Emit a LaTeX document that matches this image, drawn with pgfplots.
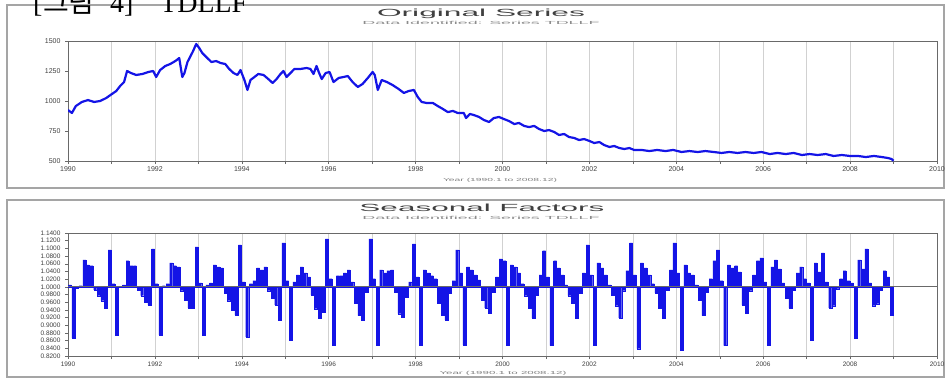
\documentclass[border=0pt]{standalone}
\usepackage{graphicx}
\usepackage{pgfplots}
\pgfplotsset{compat=1.18}
\usepackage{pgfplotstable}
\usepackage{fontspec}
\setmainfont{Liberation Sans}
\newfontfamily\serif{Liberation Serif}
\newfontfamily\kr{Noto Sans CJK KR}
\definecolor{pblue}{RGB}{20,20,230}
\definecolor{frame}{RGB}{105,105,105}
\definecolor{panel}{RGB}{165,165,165}

% seasonal factors (deviation from 1), monthly Jan 1990 - Dec 2008
\pgfplotstableread[row sep=\\]{d\\
0.005\\ -0.133\\ -0.003\\ 0.003\\ 0.070\\ 0.057\\ 0.055\\ -0.008\\ -0.023\\ -0.036\\ -0.055\\ 0.096\\
0.008\\ -0.127\\ 0.000\\ 0.005\\ 0.068\\ 0.055\\ 0.055\\ -0.008\\ -0.023\\ -0.039\\ -0.047\\ 0.099\\
0.008\\ -0.125\\ 0.003\\ 0.008\\ 0.062\\ 0.055\\ 0.052\\ -0.010\\ -0.034\\ -0.055\\ -0.055\\ 0.104\\
0.010\\ -0.127\\ 0.005\\ 0.010\\ 0.057\\ 0.052\\ 0.049\\ -0.016\\ -0.036\\ -0.060\\ -0.073\\ 0.109\\
0.013\\ -0.130\\ 0.008\\ 0.016\\ 0.049\\ 0.044\\ 0.052\\ -0.010\\ -0.029\\ -0.047\\ -0.086\\ 0.114\\
0.016\\ -0.138\\ 0.013\\ 0.031\\ 0.052\\ 0.036\\ 0.026\\ -0.021\\ -0.057\\ -0.081\\ -0.065\\ 0.125\\
0.021\\ -0.151\\ 0.029\\ 0.029\\ 0.036\\ 0.044\\ 0.013\\ -0.042\\ -0.075\\ -0.086\\ -0.013\\ 0.125\\
0.021\\ -0.153\\ 0.044\\ 0.036\\ 0.042\\ 0.044\\ -0.013\\ -0.070\\ -0.078\\ -0.026\\ 0.013\\ 0.112\\
0.026\\ -0.153\\ 0.044\\ 0.036\\ 0.029\\ 0.021\\ -0.042\\ -0.075\\ -0.086\\ -0.016\\ 0.016\\ 0.096\\
0.036\\ -0.151\\ 0.052\\ 0.044\\ 0.031\\ 0.018\\ -0.034\\ -0.055\\ -0.068\\ -0.013\\ 0.026\\ 0.073\\
0.068\\ -0.151\\ 0.057\\ 0.052\\ 0.036\\ 0.008\\ -0.023\\ -0.055\\ -0.081\\ -0.021\\ 0.031\\ 0.094\\
0.026\\ -0.153\\ 0.068\\ 0.049\\ 0.031\\ 0.005\\ -0.023\\ -0.042\\ -0.081\\ -0.016\\ 0.036\\ 0.109\\
0.031\\ -0.153\\ 0.062\\ 0.049\\ 0.031\\ 0.005\\ -0.021\\ -0.049\\ -0.081\\ -0.010\\ 0.042\\ 0.114\\
0.031\\ -0.161\\ 0.062\\ 0.049\\ 0.031\\ 0.008\\ -0.016\\ -0.055\\ -0.081\\ -0.008\\ 0.044\\ 0.114\\
0.036\\ -0.164\\ 0.057\\ 0.036\\ 0.031\\ 0.005\\ -0.034\\ -0.075\\ -0.013\\ 0.021\\ 0.068\\ 0.096\\
0.016\\ -0.153\\ 0.057\\ 0.049\\ 0.055\\ 0.039\\ -0.047\\ -0.068\\ -0.010\\ 0.031\\ 0.068\\ 0.075\\
0.013\\ -0.151\\ 0.052\\ 0.070\\ 0.047\\ 0.010\\ -0.029\\ -0.055\\ -0.008\\ 0.036\\ 0.052\\ 0.021\\
0.010\\ -0.138\\ 0.062\\ 0.039\\ 0.088\\ 0.013\\ -0.055\\ -0.049\\ -0.005\\ 0.021\\ 0.042\\ 0.016\\
0.010\\ -0.133\\ 0.070\\ 0.047\\ 0.099\\ 0.010\\ -0.049\\ -0.044\\ -0.008\\ 0.042\\ 0.026\\ -0.075\\
}\seasonal

\pgfplotsset{panelaxis/.style={
  scale only axis, width=869pt, anchor=north west,
  xmin=1990, xmax=2010,
  xtick={1990,1991,...,2010},
  xticklabels={1990,,1992,,1994,,1996,,1998,,2000,,2002,,2004,,2006,,2008,,2010},
  minor x tick num=3,
  xmajorgrids, major grid style={black!18, line width=0.6pt},
  axis line style={frame, line width=1pt},
  tick style={frame, line width=0.5pt}, tick align=outside,
  major tick length=3pt, minor tick length=1.6pt,
  xtick pos=bottom, ytick pos=left,
  tick label style={font=\fontsize{7}{8}\selectfont, text=black!75},
  xticklabel style={yshift=1pt},
  yticklabel style={xshift=-1pt},
}}

\begin{document}
\begin{tikzpicture}[x=1pt,y=1pt]
\useasboundingbox (0,0) rectangle (947,-378);

% panel boxes
\draw[panel, line width=1.4pt] (7,-5) rectangle (944,-188);
\draw[panel, line width=1.4pt] (7,-200) rectangle (944,-377);

% figure caption (cut off at the top, as in the scan)
\node[anchor=base west, inner sep=0] at (33,-12.5) {\fontsize{28}{30}\selectfont\serif [};
\node[anchor=base west, inner sep=0] at (43,-12.5) {\fontsize{28}{30}\selectfont\kr 그림};
\node[anchor=base west, inner sep=0] at (110,-12.5) {\fontsize{28}{30}\selectfont\serif 4]};
\node[anchor=base west, inner sep=0] at (160,-12.5) {\fontsize{28}{30}\selectfont\serif TDLLF};

% titles
\node[text=black!75, inner sep=0] at (481,-13.5) {\resizebox{208pt}{7.5pt}{\fontsize{10}{12}\selectfont Original Series}};
\node[text=black!45, inner sep=0] at (481,-23) {\resizebox{237pt}{3.2pt}{\fontsize{5}{6}\selectfont Data Identified: Series TDLLF}};
\node[text=black!50, inner sep=0] at (500,-180.5) {\resizebox{114pt}{3.2pt}{\fontsize{5}{6}\selectfont Year (1990.1 to 2008.12)}};

\node[text=black!75, inner sep=0] at (482,-208) {\resizebox{245pt}{7.5pt}{\fontsize{10}{12}\selectfont Seasonal Factors}};
\node[text=black!45, inner sep=0] at (481,-218) {\resizebox{237pt}{3.2pt}{\fontsize{5}{6}\selectfont Data Identified: Series TDLLF}};
\node[text=black!50, inner sep=0] at (503,-373) {\resizebox{127pt}{3.2pt}{\fontsize{5}{6}\selectfont Year (1990.1 to 2008.12)}};

% ---------- Original series ----------
\begin{axis}[panelaxis, at={(68pt,-41pt)}, height=120pt,
  ymin=500, ymax=1500, ytick={500,750,1000,1250,1500},
  yticklabels={500,750,1000,1250,1500}]
\addplot[pblue, line width=2.2pt, line join=round] coordinates {
(1990.00,925) (1990.09,900) (1990.18,958) (1990.32,992) (1990.46,1008) (1990.60,992)
(1990.74,1000) (1990.88,1025) (1991.01,1058) (1991.11,1083) (1991.20,1125) (1991.29,1158)
(1991.36,1250) (1991.45,1233) (1991.57,1217) (1991.71,1225) (1991.85,1242) (1991.96,1250)
(1992.03,1200) (1992.12,1258) (1992.24,1292) (1992.35,1308) (1992.47,1333) (1992.56,1358)
(1992.63,1200) (1992.68,1233) (1992.75,1325) (1992.81,1367) (1992.88,1417) (1992.95,1475)
(1993.02,1442) (1993.09,1400) (1993.18,1367) (1993.30,1325) (1993.41,1333) (1993.51,1317)
(1993.62,1308) (1993.71,1267) (1993.81,1233) (1993.90,1217) (1993.97,1258) (1994.06,1175)
(1994.13,1092) (1994.20,1175) (1994.29,1200) (1994.38,1225) (1994.50,1217) (1994.61,1183)
(1994.71,1150) (1994.80,1183) (1994.89,1225) (1994.96,1250) (1995.03,1200) (1995.12,1233)
(1995.21,1267) (1995.35,1267) (1995.49,1275) (1995.58,1267) (1995.65,1225) (1995.72,1292)
(1995.77,1242) (1995.84,1183) (1995.93,1233) (1996.02,1242) (1996.11,1158) (1996.23,1192)
(1996.34,1200) (1996.44,1208) (1996.55,1158) (1996.67,1117) (1996.78,1142) (1996.90,1192)
(1997.01,1242) (1997.06,1217) (1997.13,1092) (1997.22,1175) (1997.34,1158) (1997.47,1133)
(1997.61,1100) (1997.73,1067) (1997.84,1083) (1997.96,1092) (1998.05,1033) (1998.14,992)
(1998.26,983) (1998.40,983) (1998.51,958) (1998.63,933) (1998.74,908) (1998.86,917)
(1998.97,900) (1999.11,900) (1999.16,858) (1999.25,892) (1999.34,883) (1999.46,867)
(1999.57,842) (1999.69,825) (1999.80,858) (1999.92,867) (2000.03,850) (2000.15,833)
(2000.27,808) (2000.38,817) (2000.50,792) (2000.61,783) (2000.73,792) (2000.84,767)
(2000.96,750) (2001.07,758) (2001.19,742) (2001.30,717) (2001.42,725) (2001.53,700)
(2001.65,692) (2001.76,675) (2001.88,683) (2002.00,667) (2002.11,650) (2002.23,658)
(2002.34,633) (2002.46,617) (2002.57,625) (2002.69,608) (2002.80,600) (2002.92,608)
(2003.03,592) (2003.20,592) (2003.38,583) (2003.56,592) (2003.75,583) (2003.93,592)
(2004.12,575) (2004.30,583) (2004.49,575) (2004.67,583) (2004.86,575) (2005.04,567)
(2005.22,575) (2005.41,567) (2005.59,575) (2005.78,567) (2005.96,575) (2006.15,558)
(2006.33,567) (2006.52,558) (2006.70,567) (2006.89,550) (2007.07,558) (2007.25,550)
(2007.44,558) (2007.62,542) (2007.81,550) (2007.99,542) (2008.18,542) (2008.36,533)
(2008.55,542) (2008.73,533) (2008.87,525) (2008.95,517) (2009.00,502)
};
\end{axis}

% ---------- Seasonal factors ----------
\begin{axis}[panelaxis, at={(68pt,-233pt)}, height=123pt,
  ymin=-0.18, ymax=0.14,
  ytick={-0.18,-0.16,-0.14,-0.12,-0.10,-0.08,-0.06,-0.04,-0.02,0,0.02,0.04,0.06,0.08,0.10,0.12,0.14},
  yticklabels={0.8200,0.8400,0.8600,0.8800,0.9000,0.9200,0.9400,0.9600,0.9800,1.0000,1.0200,1.0400,1.0600,1.0800,1.1000,1.1200,1.1400},
  tick label style={font=\fontsize{6.5}{7}\selectfont}]
\addplot[ybar, bar width=3.0pt, fill=pblue, draw=pblue, line width=0.3pt]
  table[x expr={1990+(\coordindex+0.5)/12}, y=d] {\seasonal};
\addplot[frame, line width=0.9pt] coordinates {(1990,0) (2010,0)};
\end{axis}
\end{tikzpicture}
\end{document}
